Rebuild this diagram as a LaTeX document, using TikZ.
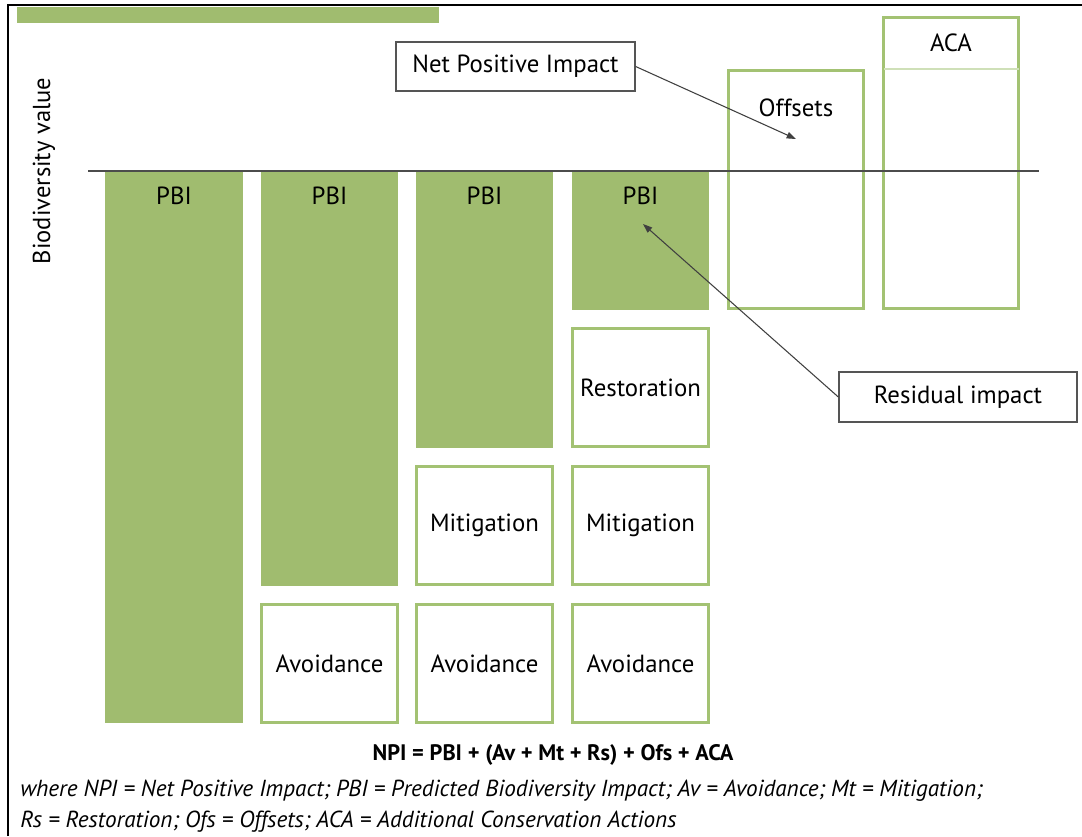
\documentclass[tikz,border=0pt]{standalone}
\usepackage{fontspec}
\setmainfont{PT Sans}
\usetikzlibrary{arrows.meta}
\definecolor{gfill}{HTML}{A0BC6F}
\definecolor{gline}{HTML}{A3C273}
\definecolor{gdiv}{HTML}{CFE0B8}
\definecolor{lblline}{HTML}{555555}
\begin{document}
\begin{tikzpicture}[x=0.75pt,y=-0.75pt,
  greenbox/.style={fill=gfill, draw=none, inner sep=0pt, outer sep=0pt},
  outbox/.style={fill=white, draw=gline, line width=1.6pt, inner sep=0pt, outer sep=0pt, font=\fontsize{18.6}{22}\selectfont},
  lbl/.style={font=\fontsize{18.6}{22}\selectfont, inner sep=0pt},
  callout/.style={fill=white, draw=lblline, line width=1pt, inner sep=0pt, font=\fontsize{18.6}{22}\selectfont},
  arr/.style={-{Triangle[length=7pt,width=5pt]}, draw=black!75, line width=0.8pt}]
\useasboundingbox (0,0) rectangle (1082,836);
% frame
\draw[line width=1.5pt, black] (8,836) -- (8,5) -- (1082,5);
\fill[gfill] (17,7) rectangle (439,23);
% column 1
\node[greenbox, minimum width={138*0.75pt}, minimum height={552*0.75pt}] (pbi1) at (174,447) {};
% column 2
\node[greenbox, minimum width={137*0.75pt}, minimum height={415*0.75pt}] (pbi2) at (329.5,378.5) {};
\node[outbox, minimum width={136*0.75pt}, minimum height={118*0.75pt}] (av2) at (329.5,663.5) {Avoidance};
% column 3
\node[greenbox, minimum width={137*0.75pt}, minimum height={277*0.75pt}] (pbi3) at (484.5,309.5) {};
\node[outbox, minimum width={136*0.75pt}, minimum height={118*0.75pt}] (mt3) at (484.5,525.5) {Mitigation};
\node[outbox, minimum width={136*0.75pt}, minimum height={118*0.75pt}] (av3) at (484.5,663.5) {Avoidance};
% column 4
\node[greenbox, minimum width={137*0.75pt}, minimum height={139*0.75pt}] (pbi4) at (640.5,240.5) {};
\node[outbox, minimum width={136*0.75pt}, minimum height={118*0.75pt}] (rs4) at (640.5,387.5) {Restoration};
\node[outbox, minimum width={136*0.75pt}, minimum height={118*0.75pt}] (mt4) at (640.5,525.5) {Mitigation};
\node[outbox, minimum width={136*0.75pt}, minimum height={118*0.75pt}] (av4) at (640.5,663.5) {Avoidance};
% offsets and ACA
\node[outbox, minimum width={135*0.75pt}, minimum height={238*0.75pt}] (ofs) at (796,189.5) {};
\node[outbox, minimum width={135*0.75pt}, minimum height={291*0.75pt}] (aca) at (951,163) {};
\draw[gdiv, line width=1.6pt] (aca.west |- 0,69) coordinate (acadl) -- (aca.east |- 0,69) coordinate (acadr);
% labels
\node[lbl] (tp1) at (174,196) {PBI};
\node[lbl] (tp2) at (329.5,196) {PBI};
\node[lbl] (tp3) at (484.5,196) {PBI};
\node[lbl] (tp4) at (640.5,196) {PBI};
\node[lbl] (tofs) at (796,108) {Offsets};
\node[lbl] (taca) at (951,43) {ACA};
% baseline
\coordinate (bl) at (88,171);
\coordinate (br) at (1039,171);
\draw[black!70, line width=0.8pt] (bl) -- (br);
% y label
\node[lbl, rotate=90, font=\fontsize{18.4}{22}\selectfont] (ylab) at (44,171) {Biodiversity value};
% callouts
\node[callout, minimum width={239*0.75pt}, minimum height={49*0.75pt}] (npi) at (515.5,66.5) {Net Positive Impact};
\node[callout, minimum width={238*0.75pt}, minimum height={50*0.75pt}] (resid) at (958,397) {Residual impact};
\coordinate (ofstip) at (796,139);
\coordinate (pbitip) at (643,224);
\draw[arr] (npi.east) -- (ofstip);
\draw[arr] (resid.west) -- (pbitip);
% formula
\node[font=\bfseries\fontsize{16.8}{20}\selectfont, inner sep=0pt] (eq) at (553,755) {NPI = PBI + (Av + Mt + Rs) + Ofs + ACA};
\node[font=\itshape\fontsize{17.4}{20}\selectfont, inner sep=0pt, anchor=west] (leg1) at (20,791) {where NPI = Net Positive Impact; PBI = Predicted Biodiversity Impact; Av = Avoidance; Mt = Mitigation;};
\node[font=\itshape\fontsize{17.4}{20}\selectfont, inner sep=0pt, anchor=west] (leg2) at (20,822) {Rs = Restoration; Ofs = Offsets; ACA = Additional Conservation Actions};
\end{tikzpicture}
\end{document}
